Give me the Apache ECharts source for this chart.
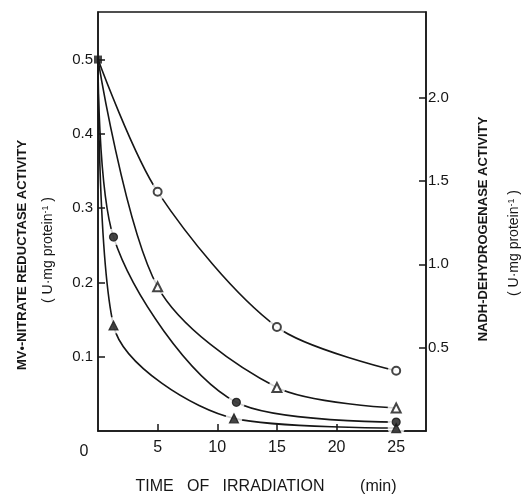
<!DOCTYPE html>
<html><head><meta charset="utf-8">
<script src="https://cdn.jsdelivr.net/npm/echarts@6/dist/echarts.min.js"></script>
<style>html,body{margin:0;padding:0;background:#fff}#c{width:521px;height:500px}</style>
</head><body><div id="c"></div>
<script>
// ---- tick labels ----
const xTicks = [5, 10, 15, 20, 25];
const leftTicks = [0.1, 0.2, 0.3, 0.4, 0.5];
const rightTicks = [0.5, 1.0, 1.5, 2.0];
// ---- data (time in min) ----
// common starting point (filled square)
const startT = [0];
const startNitrate = [0.5];
// NADH-dehydrogenase (right axis), open symbols
const openCircleT = [0, 5, 15, 25];
const openCircleV = [2.23, 1.435, 0.624, 0.361];
const openTriT = [0, 5, 15, 25];
const openTriV = [2.23, 0.865, 0.261, 0.138];
// MV-nitrate reductase (left axis), filled symbols
const dotT = [0, 1.3, 11.6, 25];
const dotV = [0.5, 0.261, 0.0386, 0.012];
const triT = [0, 1.3, 11.4, 25];
const triV = [0.5, 0.142, 0.017, 0.004];

const INK = '#161616';
const FONT = 'Liberation Sans';
const pairs = (t, v) => t.map((x, i) => [x, v[i]]);
const pts = (t, v) => pairs(t, v).slice(1);

function group(name, t, v, yIdx, symbol, size, zBase) {
  return [
    { name: name, type: 'line', yAxisIndex: yIdx, data: pairs(t, v), showSymbol: false,
      smooth: 0.3, z: zBase,
      lineStyle: { color: INK, width: 1.6 }, silent: true },
    { type: 'scatter', yAxisIndex: yIdx, data: pts(t, v), symbol: 'circle', symbolSize: 17,
      itemStyle: { color: '#fff' }, z: zBase + 1, silent: true },
    { name: name + ' marker', type: 'scatter', yAxisIndex: yIdx, data: pts(t, v), symbol: symbol,
      symbolSize: size, itemStyle: { color: INK, borderColor: INK, borderWidth: 1.2 }, z: 40 }
  ];
}

const chart = echarts.init(document.getElementById('c'), null, { renderer: 'canvas' });
const axisLineStyle = { color: INK, width: 1.5 };
chart.setOption({
  animation: false,
  backgroundColor: '#fff',
  grid: { left: 98, right: 95, top: 12, bottom: 64, show: true, borderColor: INK, borderWidth: 1.5 },
  xAxis: {
    type: 'value', min: 0, max: 27.5,
    name: 'TIME   OF   IRRADIATION        (min)', nameLocation: 'middle', nameGap: 48,
    nameTextStyle: { fontFamily: FONT, fontSize: 16, color: INK, padding: [0, 0, 0, 8] },
    axisLine: { show: true, lineStyle: axisLineStyle },
    axisTick: { inside: true, length: 7, customValues: xTicks, lineStyle: axisLineStyle },
    axisLabel: { customValues: xTicks, margin: 9, fontFamily: FONT, fontSize: 16, color: INK },
    splitLine: { show: false }
  },
  yAxis: [
    { type: 'value', min: 0, max: 0.564, position: 'left',
      axisLine: { show: true, lineStyle: axisLineStyle },
      axisTick: { inside: true, length: 7, customValues: leftTicks, lineStyle: axisLineStyle },
      axisLabel: { customValues: leftTicks, margin: 5, fontFamily: FONT, fontSize: 15, color: INK,
        formatter: v => v.toFixed(1) },
      splitLine: { show: false } },
    { type: 'value', min: 0, max: 2.514, position: 'right',
      axisLine: { show: true, lineStyle: axisLineStyle },
      axisTick: { inside: true, length: 7, customValues: rightTicks, lineStyle: axisLineStyle },
      axisLabel: { customValues: rightTicks, margin: 2, fontFamily: FONT, fontSize: 15, color: INK,
        formatter: v => v.toFixed(1) },
      splitLine: { show: false } }
  ],
  graphic: [
    { type: 'text', x: 84, y: 452, style: { text: '0', font: '16px "Liberation Sans"', fill: INK, align: 'center', verticalAlign: 'middle' } },
    { type: 'text', x: 22, y: 255, rotation: Math.PI / 2,
      style: { text: 'MV•-NITRATE REDUCTASE ACTIVITY', font: 'bold 13px "Liberation Sans"', fill: INK, align: 'center', verticalAlign: 'middle' } },
    { type: 'text', x: 48, y: 250, rotation: Math.PI / 2,
      style: { text: '( U·mg protein{s|-1} )', font: '14px "Liberation Sans"', fill: INK, align: 'center', verticalAlign: 'middle',
        rich: { s: { fontSize: 9, fontFamily: FONT, verticalAlign: 'top', lineHeight: 9, fill: INK } } } },
    { type: 'text', x: 483, y: 229, rotation: Math.PI / 2,
      style: { text: 'NADH-DEHYDROGENASE ACTIVITY', font: 'bold 13px "Liberation Sans"', fill: INK, align: 'center', verticalAlign: 'middle' } },
    { type: 'text', x: 514, y: 243, rotation: Math.PI / 2,
      style: { text: '( U·mg protein{s|-1} )', font: '14px "Liberation Sans"', fill: INK, align: 'center', verticalAlign: 'middle',
        rich: { s: { fontSize: 9, fontFamily: FONT, verticalAlign: 'top', lineHeight: 9, fill: INK } } } }
  ],
  series: [
    ...group('Nitrate reductase (●)', dotT, dotV, 0, 'circle', 8, 1),
    ...group('Nitrate reductase (▲)', triT, triV, 0, 'triangle', 9, 3),
    ...group('NADH-dehydrogenase (△)', openTriT, openTriV, 1, 'emptyTriangle', 9, 5),
    ...group('NADH-dehydrogenase (○)', openCircleT, openCircleV, 1, 'emptyCircle', 8, 7),
    { name: 'start', type: 'scatter', data: pairs(startT, startNitrate), symbol: 'rect', symbolSize: 8,
      itemStyle: { color: INK }, z: 45 }
  ]
});
</script></body></html>
